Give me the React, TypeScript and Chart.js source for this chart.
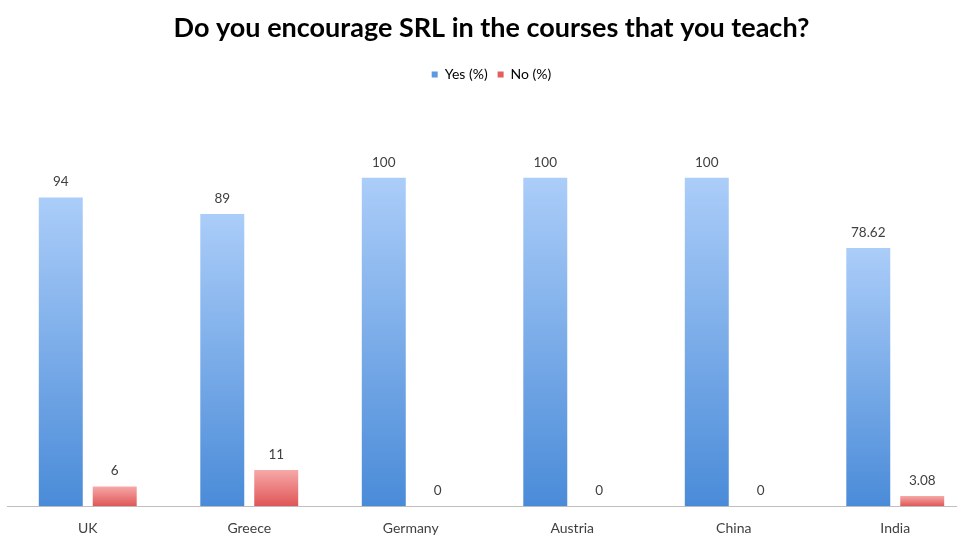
import React, { useEffect, useRef } from "react";
import { Chart, registerables } from "chart.js";

Chart.register(...registerables);

const categories = ["UK", "Greece", "Germany", "Austria", "China", "India"];
const yesValues = [94, 89, 100, 100, 100, 78.62];
const noValues = [6, 11, 0, 0, 0, 3.08];
const seriesNames = ["Yes (%)", "No (%)"];
const titleText = "Do you encourage SRL in the courses that you teach?";

const FONT = "Lato, 'Open Sans', sans-serif";

function gradient(ctx: any, top: string, bottom: string, solid: string) {
  const chart = ctx.chart;
  const y = chart.scales && chart.scales.y;
  if (!chart.chartArea || !y || ctx.type !== "data") return solid;
  const v = ctx.parsed ? ctx.parsed.y : ctx.raw;
  const yTop = y.getPixelForValue(v);
  const yBot = y.getPixelForValue(0);
  if (!isFinite(yTop) || !isFinite(yBot) || Math.abs(yBot - yTop) < 0.5) return solid;
  const g = chart.ctx.createLinearGradient(0, yTop, 0, yBot);
  g.addColorStop(0, top);
  g.addColorStop(1, bottom);
  return g;
}

const valueLabels = {
  id: "valueLabels",
  afterDatasetsDraw(chart: any) {
    const ctx = chart.ctx;
    ctx.save();
    ctx.font = `13.5px ${FONT}`;
    ctx.fillStyle = "#404040";
    ctx.textAlign = "center";
    ctx.textBaseline = "alphabetic";
    chart.data.datasets.forEach((ds: any, i: number) => {
      const meta = chart.getDatasetMeta(i);
      meta.data.forEach((bar: any, j: number) => {
        const v = ds.data[j];
        ctx.fillText(String(v), bar.x, bar.y - 11);
      });
    });
    ctx.restore();
  },
};

export default function App() {
  const ref = useRef<HTMLCanvasElement>(null);
  useEffect(() => {
    if (!ref.current) return;
    const chart = new Chart(ref.current, {
      type: "bar",
      data: {
        labels: categories,
        datasets: [
          {
            label: seriesNames[0],
            data: yesValues,
            backgroundColor: (c: any) => gradient(c, "#abcdf9", "#4a8bd8", "#5b9ae0"),
            borderWidth: 0,
          },
          {
            label: seriesNames[1],
            data: noValues,
            backgroundColor: (c: any) => gradient(c, "#f7a8a8", "#df5656", "#e35f5f"),
            borderWidth: 0,
          },
        ],
      },
      options: {
        animation: false,
        responsive: false,
        maintainAspectRatio: false,
        layout: { padding: { left: 7, right: 0, top: 0, bottom: 0 } },
        datasets: {
          bar: { categoryPercentage: 0.668, barPercentage: 0.815 },
        },
        plugins: {
          title: {
            display: true,
            text: titleText,
            color: "#000000",
            font: { family: FONT, size: 27, weight: "bold" },
            padding: { top: 12, bottom: 13 },
          },
          legend: {
            display: true,
            position: "top",
            labels: {
              boxWidth: 6,
              boxHeight: 6,
              padding: 10,
              color: "#404040",
              font: { family: FONT, size: 14 },
              generateLabels: (chart: any) => {
                const cols = ["#5b9ae0", "#e35f5f"];
                return chart.data.datasets.map((ds: any, i: number) => ({
                  text: ds.label,
                  fillStyle: cols[i],
                  strokeStyle: cols[i],
                  lineWidth: 0,
                  hidden: false,
                  datasetIndex: i,
                }));
              },
            },
          },
          tooltip: { enabled: false },
        },
        scales: {
          x: {
            grid: { display: false, drawTicks: false },
            border: { display: true, color: "#bfbfbf", width: 1 },
            ticks: {
              color: "#404040",
              font: { family: FONT, size: 14 },
              padding: 14,
            },
          },
          y: {
            display: false,
            min: 0,
            max: 126.3,
          },
        },
      },
      plugins: [valueLabels],
    });
    return () => chart.destroy();
  }, []);
  return (
    <div
      style={{
        position: "fixed",
        left: 0,
        top: 0,
        width: 957,
        height: 535,
        overflow: "hidden",
        background: "#ffffff",
      }}
    >
      <canvas ref={ref} width={976} height={551} style={{ display: "block", width: 976, height: 551 }} />
    </div>
  );
}
